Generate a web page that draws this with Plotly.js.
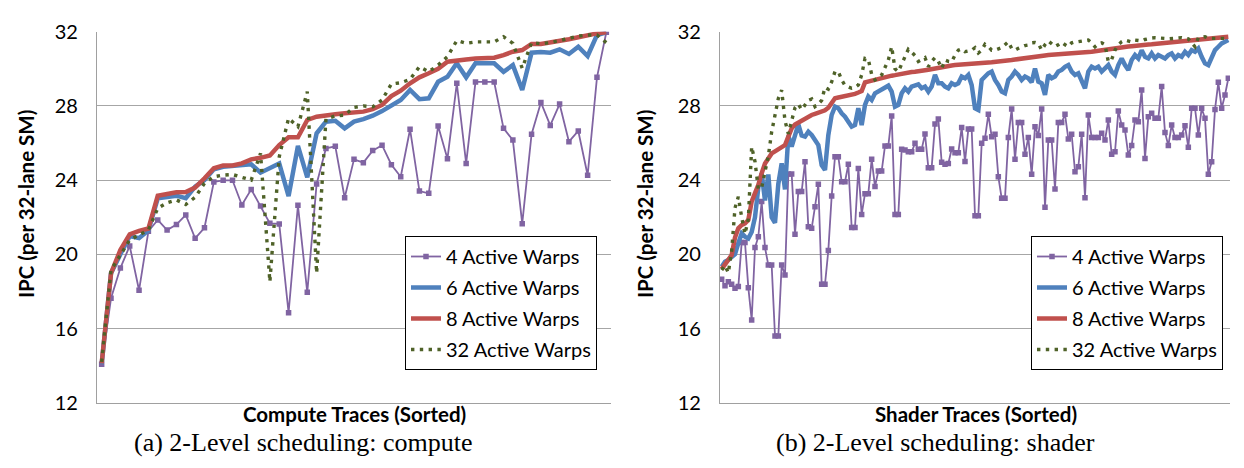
<!DOCTYPE html>
<html>
<head>
<meta charset="utf-8">
<script src="https://cdn.plot.ly/plotly-3.0.1.min.js"></script>
<style>
  html, body { margin: 0; padding: 0; background: #ffffff; }
  #chart { width: 1244px; height: 468px; }
</style>
</head>
<body>
<div id="chart"></div>
<script>
// ---------- Data ----------
const seriesNames = ["4 Active Warps", "6 Active Warps", "8 Active Warps", "32 Active Warps"];
const yTicks = [12, 16, 20, 24, 28, 32];

// (a) Compute traces, sorted (55 traces)
const compute4 = [14.07, 17.63, 19.26, 20.45, 18.06, 21.24, 21.85, 21.31, 21.6, 22.12, 20.86, 21.43, 23.9, 23.99, 23.99, 22.66, 23.5, 22.6, 21.67, 21.64, 16.85, 22.64, 17.95, 23.79, 25.71, 25.82, 23.05, 25.12, 24.94, 25.59, 25.88, 24.83, 24.18, 26.74, 23.41, 23.29, 26.92, 25.15, 29.22, 24.9, 29.29, 29.29, 29.29, 26.79, 26.16, 21.65, 26.47, 28.19, 26.95, 28.1, 26.07, 26.65, 24.26, 29.54, 31.97];
const compute6 = [14.07, 18.98, 20.0, 20.98, 20.87, 21.28, 23.02, 23.07, 23.16, 23.02, 23.65, 24.0, 24.58, 24.72, 24.77, 24.76, 24.85, 24.4, 24.65, 24.9, 23.14, 25.84, 24.15, 26.52, 27.15, 27.2, 26.79, 27.15, 27.29, 27.47, 27.72, 28.0, 28.32, 28.86, 28.36, 28.41, 29.3, 29.57, 30.3, 29.54, 30.3, 30.3, 30.3, 29.84, 30.2, 28.86, 30.87, 30.9, 30.87, 31.05, 30.8, 31.19, 30.69, 31.82, 31.97];
const compute8 = [14.12, 18.98, 20.23, 21.08, 21.26, 21.39, 23.16, 23.25, 23.34, 23.36, 23.6, 24.1, 24.64, 24.79, 24.79, 24.9, 25.12, 25.2, 25.33, 25.89, 26.31, 26.31, 27.24, 27.42, 27.51, 27.55, 27.6, 27.63, 27.69, 27.82, 28.05, 28.53, 28.82, 29.22, 29.54, 29.76, 30.0, 30.38, 30.47, 30.5, 30.56, 30.56, 30.6, 30.74, 30.92, 31.01, 31.34, 31.34, 31.41, 31.47, 31.59, 31.7, 31.82, 31.91, 31.97];
const compute32 = [14.2, 19.15, 19.96, 20.77, 21.04, 21.31, 22.48, 22.78, 22.93, 22.69, 23.07, 23.83, 24.18, 24.27, 24.3, 24.15, 24.0, 25.44, 18.52, 25.26, 27.33, 26.88, 28.77, 18.98, 27.3, 27.46, 27.5, 27.92, 28.0, 27.95, 28.32, 29.18, 29.25, 29.43, 30.11, 29.84, 30.2, 30.66, 31.52, 31.37, 31.45, 31.45, 31.45, 31.73, 31.37, 30.03, 31.41, 31.35, 31.41, 31.52, 31.64, 31.76, 31.82, 31.82, 31.41];

// (b) Shader traces, sorted (153 traces)
const shader4 = [18.65, 18.31, 18.52, 18.38, 18.17, 18.26, 20.63, 20.63, 18.2, 16.46, 20.36, 20.95, 22.84, 20.36, 19.42, 19.42, 15.6, 15.6, 19.42, 18.88, 24.33, 24.33, 21.08, 23.38,
  23.38, 24.99, 21.49, 21.4, 22.57, 23.77, 18.38, 18.38, 20.21, 23.14, 25.26, 25.26, 23.91, 23.91, 24.85, 21.44, 21.44, 24.63, 22.15, 23.27, 23.27, 25.12, 23.65, 24.49, 24.49, 25.84, 25.84, 27.45, 22.15, 22.15, 25.66, 25.62, 25.53, 25.53, 25.98, 25.66, 25.66, 26.48, 24.67, 24.67, 27.02, 27.29,
  24.96, 24.85, 24.9, 25.68, 25.48, 25.48, 26.83, 25.0, 26.75, 26.75, 22.08, 22.08, 25.98, 26.25, 27.55, 26.34, 26.47, 24.18, 23.02, 23.02, 26.3, 27.83, 25.12, 27.11, 27.11, 25.39, 26.3, 24.31, 26.88, 26.4, 27.83, 22.53, 26.16, 26.16, 23.52, 27.1, 27.1, 27.55, 26.22,
  26.47, 24.45, 24.72, 26.47, 23.05, 27.51, 26.29, 26.29, 26.29, 26.52, 26.16, 27.24, 25.39, 25.53, 27.72, 26.97, 26.7, 25.35, 25.86, 27.24, 27.15, 28.86, 25.17, 27.42, 27.6, 27.33, 27.33, 29.04, 26.57, 25.86, 26.97, 26.29, 26.29, 26.43, 26.93, 25.77, 27.87, 27.87, 26.43, 27.87, 27.33, 24.31, 24.99, 27.81, 29.27, 27.87, 28.59, 29.49];
const shader6 = [19.33, 19.6, 19.7, 19.84, 20.0, 20.6, 21.13, 20.95, 20.85, 21.2, 22.0, 23.6, 24.35, 22.9, 24.3, 22.0, 21.7, 23.8, 24.9, 23.5, 26.4, 25.8, 26.5, 27.0,
  26.4, 26.34, 26.61, 26.43, 26.16, 25.89, 24.81, 24.54, 26.43, 27.51, 27.96, 27.87, 27.6, 27.42, 27.15, 26.88, 26.97, 27.87, 26.97, 28.05, 28.5, 28.32, 28.68, 28.8, 28.91, 28.98, 29.09, 28.77, 27.96, 28.05, 28.68, 28.95, 28.77, 29.04, 29.13, 29.16, 28.95, 29.04, 28.77, 29.04, 29.67, 29.22,
  29.22, 29.04, 28.95, 29.22, 29.13, 29.22, 29.58, 29.49, 29.67, 29.13, 27.87, 27.78, 29.4, 29.58, 29.76, 29.85, 29.4, 29.13, 28.77, 28.68, 29.4, 29.58, 29.85, 29.67, 29.4, 29.58, 29.49, 29.27, 30.02, 29.31, 29.22, 28.59, 29.67, 29.49, 29.58, 29.85, 29.94, 30.11, 30.2,
  29.85, 29.67, 29.76, 29.4, 28.95, 29.85, 30.11, 30.02, 30.11, 29.85, 30.02, 30.2, 29.85, 29.67, 30.2, 30.56, 30.2, 29.94, 30.47, 30.74, 30.56, 31.0, 30.65, 30.56, 30.83, 30.56, 30.74, 30.65, 30.56, 30.74, 30.83, 30.56, 30.74, 30.65, 30.92, 30.74, 31.01, 30.92, 31.1, 30.65, 30.29, 30.2, 30.65, 31.01, 31.19, 31.37, 31.46, 31.55];
const shader8 = [19.2, 19.45, 19.7, 19.96, 20.9, 21.4, 21.58, 21.67, 21.85, 22.84, 23.3, 23.74, 24.37, 24.9, 25.17, 25.44, 25.55, 25.68, 25.77, 25.89, 26.34, 26.79, 27.0, 27.1, 27.24, 27.36, 27.45, 27.51, 27.57, 27.63, 27.69, 27.76, 27.9, 28.14, 28.41, 28.45, 28.48, 28.5, 28.55, 28.59, 28.65, 28.72, 28.8, 29.27, 29.32, 29.36, 29.4, 29.46, 29.52, 29.58, 29.6, 29.63, 29.66, 29.7, 29.74, 29.8, 29.82, 29.83, 29.84, 29.85, 29.88, 29.92, 29.95, 29.99, 30.0, 30.04, 30.08, 30.12, 30.16, 30.18, 30.2, 30.22, 30.24, 30.26, 30.27, 30.28, 30.29, 30.3, 30.31, 30.33, 30.34, 30.35, 30.36, 30.37, 30.38, 30.41, 30.44, 30.47, 30.5, 30.53, 30.56, 30.59, 30.61, 30.64, 30.66, 30.69, 30.71, 30.72, 30.74, 30.75, 30.76, 30.77, 30.78, 30.79, 30.8, 30.82, 30.84, 30.86, 30.87, 30.88, 30.89, 30.92, 30.95, 30.98, 31.01, 31.04, 31.07, 31.09, 31.11, 31.14, 31.16, 31.18, 31.2, 31.22, 31.25, 31.26, 31.28, 31.29, 31.31, 31.32, 31.34, 31.35, 31.37, 31.39, 31.42, 31.44, 31.46, 31.48, 31.5, 31.52, 31.55, 31.56, 31.58, 31.59, 31.61, 31.62, 31.64, 31.65, 31.67, 31.68, 31.7, 31.71, 31.73];
const shader32 = [19.15, 19.4, 19.0, 20.2, 22.5, 23.1, 22.0, 21.1, 21.9, 25.8, 25.0, 23.5, 23.6, 24.4, 25.3, 26.6, 27.6, 28.4, 28.85, 27.2, 26.5, 27.3, 27.9, 28.1, 27.8, 28.05, 28.3, 28.37, 27.96, 28.1, 28.3, 29.0, 28.9, 29.3, 29.85, 29.85, 29.4, 29.1, 29.0, 28.95, 29.0, 29.13, 29.67, 30.56, 30.5, 29.7, 29.4, 29.5, 29.67, 30.1, 30.47, 31.19, 30.0, 29.85, 30.24, 30.71, 31.05, 30.9, 30.71, 30.4, 30.5, 30.6, 30.11, 30.4, 30.6, 30.4, 30.02, 30.47, 30.4, 30.38, 30.74, 31.0, 31.07, 30.92, 30.96, 31.0, 31.14, 30.85, 31.0, 31.32, 31.2, 31.0, 31.0, 31.07, 31.14, 31.3, 31.46, 31.1, 31.0, 31.1, 31.2, 31.25, 31.28, 31.4, 31.42, 31.37, 31.01, 31.3, 31.5, 31.35, 31.2, 31.3, 31.43, 31.3, 31.2, 31.4, 31.46, 31.46, 31.5, 31.52, 31.55, 31.4, 31.19, 31.35, 31.4, 31.3, 30.38, 30.5, 31.01, 31.3, 31.46, 31.55, 31.5, 31.45, 31.55, 31.52, 31.5, 31.58, 31.64, 31.66, 31.68, 31.68, 31.68, 31.64, 31.61, 31.62, 31.64, 31.66, 31.68, 31.64, 31.61, 31.4, 31.19, 31.68, 31.7, 31.73, 31.64, 31.66, 31.64, 31.64, 31.64, 31.68, 31.64];

// ---------- Styling ----------
const W = 1244, H = 468;
const colors = ["#8064A2", "#4F81BD", "#C0504D", "#4F6228"];
const sansFamily = "Lato, 'Open Sans', sans-serif";
const tickFont = {family: sansFamily, size: 20, color: "#000000"};
const boldFont = {family: sansFamily, size: 20.5, color: "#000000", weight: 700};
const capFont = {family: "'Liberation Serif', 'DejaVu Serif', serif", size: 26, color: "#000000"};

function idx(n) { return Array.from({length: n}, (_, i) => i); }

function makeTraces(vals, xa, ya, legendId) {
  const x = idx(vals[0].length);
  const base = {xaxis: xa, yaxis: ya, legend: legendId, hoverinfo: "skip"};
  return [
    Object.assign({}, base, {x: x, y: vals[0], name: seriesNames[0], legendgroup: "g0", mode: "lines+markers",
      line: {color: colors[0], width: 1.8}, marker: {symbol: "square", size: 5.5, color: colors[0]}}),
    Object.assign({}, base, {x: x, y: vals[1], name: seriesNames[1], legendgroup: "g1", mode: "lines",
      line: {color: colors[1], width: 4.5}}),
    Object.assign({}, base, {x: x, y: vals[2], name: seriesNames[2], legendgroup: "g2", mode: "lines",
      line: {color: colors[2], width: 4.5}}),
    Object.assign({}, base, {x: x, y: vals[3], name: seriesNames[3], legendgroup: "g3", mode: "lines",
      line: {color: colors[3], width: 3.4, dash: "3.4px,5.4px"}})
  ];
}

const traces = []
  .concat(makeTraces([compute4, compute6, compute8, compute32], "x", "y", "legend"))
  .concat(makeTraces([shader4, shader6, shader8, shader32], "x2", "y2", "legend2"));

const px = v => v / W;
const py = v => 1 - v / H;
const yDom = [py(402.7), py(31.7)];

const yAxisBase = {
  range: [12, 32], tickvals: yTicks, ticktext: yTicks.map(String),
  showgrid: true, gridcolor: "#A6A6A6", gridwidth: 1,
  showline: true, linecolor: "#A0A0A0", linewidth: 1.3,
  zeroline: false, ticks: "", tickfont: tickFont, ticklabelstandoff: 14,
  domain: yDom, fixedrange: true
};
const xAxisBase = {
  showgrid: false, showline: true, linecolor: "#A0A0A0", linewidth: 1.3,
  zeroline: false, ticks: "", showticklabels: false, fixedrange: true
};

const legendBase = {
  xanchor: "left", yanchor: "top", bgcolor: "#ffffff",
  bordercolor: "#000000", borderwidth: 1,
  font: {family: sansFamily, size: 20, color: "#000000"},
  tracegroupgap: 2, itemwidth: 30, traceorder: "grouped"
};

function note(text, x, y, font, angle) {
  return {text: text, x: px(x), y: py(y), xref: "paper", yref: "paper", xanchor: "center", yanchor: "middle",
          showarrow: false, font: font, textangle: angle || 0};
}

const layout = {
  width: W, height: H,
  margin: {l: 0, r: 0, t: 0, b: 0},
  paper_bgcolor: "#ffffff", plot_bgcolor: "#ffffff",
  showlegend: true,
  xaxis: Object.assign({}, xAxisBase, {domain: [px(97), px(611)], range: [-0.5, compute4.length - 0.5], anchor: "y"}),
  yaxis: Object.assign({}, yAxisBase, {anchor: "x"}),
  xaxis2: Object.assign({}, xAxisBase, {domain: [px(720), px(1230)], range: [-0.5, shader4.length - 0.5], anchor: "y2"}),
  yaxis2: Object.assign({}, yAxisBase, {anchor: "x2"}),
  legend: Object.assign({}, legendBase, {x: px(405), y: py(236)}),
  legend2: Object.assign({}, legendBase, {x: px(1031), y: py(236)}),
  annotations: [
    note("IPC (per 32-lane SM)", 26, 204, boldFont, -90),
    note("IPC (per 32-lane SM)", 645, 204, boldFont, -90),
    note("Compute Traces (Sorted)", 354, 414, boldFont),
    note("Shader Traces (Sorted)", 976, 414, boldFont),
    note("(a) 2-Level scheduling: compute", 303, 442, capFont),
    note("(b) 2-Level scheduling: shader", 935, 442, capFont)
  ]
};

Plotly.newPlot("chart", traces, layout, {displayModeBar: false, responsive: false});
</script>
</body>
</html>
